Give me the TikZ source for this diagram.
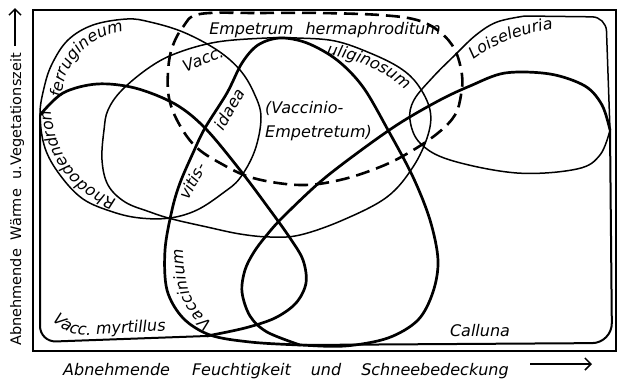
\documentclass[tikz,border=0pt]{standalone}
\usepackage{fontspec}
\setmainfont{DejaVu Sans}
\usetikzlibrary{arrows.meta,decorations.text}

\newcommand\labfont{\fontsize{16}{18}\selectfont\itshape}

\begin{document}
\begin{tikzpicture}[x=1pt,y=-1pt,
  frameline/.style={line width=2.8pt},
  heavy/.style={line width=2.7pt,line join=round},
  medium/.style={line width=2pt,line join=round},
  light/.style={line width=1.5pt},
  dashline/.style={line width=2.6pt,dash pattern=on 14pt off 7pt},
  lab/.style={font=\labfont,inner sep=0pt},
  along/.style={decorate,decoration={text along path,text align=center,text={|\labfont|#1}}},
  axisarr/.style={line width=1.5pt,-{Straight Barb[length=6pt,width=12pt]}}
]
\useasboundingbox (0,0) rectangle (619,378);
\draw[frameline] (33,10) rectangle (616,351);

% Rhododendron ferrugineum
\draw[light] plot[smooth cycle,tension=.6] coordinates {(40,115) (44,88) (52,64) (68,40) (93,25) (127,19) (150,22) (183,32) (217,50) (240,70) (254,93) (261,117) (255,150) (240,178) (223,193) (197,210) (170,218) (140,218) (113,212) (83,199) (60,175) (45,148)};
% Vacc. uliginosum
\draw[light] plot[smooth cycle,tension=.6] coordinates {(104,130) (102,160) (108,185) (125,202) (150,212) (172,219) (207,227) (240,234) (270,237) (300,235) (343,220) (387,197) (413,167) (428,135) (430,110) (418,85) (400,68) (370,53) (335,41) (297,38) (267,38) (217,42) (177,53) (150,67) (122,90) (108,110)};
% Empetrum hermaphroditum
\draw[dashline] plot[smooth cycle,tension=.6] coordinates {(200,14) (260,13) (320,13) (380,15) (417,20) (440,32) (455,50) (462,75) (461,95) (455,115) (438,133) (410,152) (380,167) (340,180) (300,185) (253,178) (220,163) (195,146) (178,122) (169,98) (168,72) (172,48) (183,27)};
% Vacc. vitis-idaea
\draw[heavy] plot[smooth cycle,tension=.55] coordinates {(165,250) (172,210) (180,183) (193,153) (205,128) (227,93) (242,63) (258,45) (280,38) (307,43) (337,60) (363,87) (388,130) (413,177) (430,220) (438,260) (433,292) (418,320) (388,338) (345,346) (300,345) (250,342) (210,335) (183,318) (167,290)};
% Vacc. myrtillus
\draw[heavy] plot[smooth,tension=.55] coordinates {(40,115) (63,93) (97,84) (135,88) (175,104) (205,128) (240,170) (270,210) (290,238) (303,260) (306,283) (296,303) (275,318) (245,328) (207,336)};
\draw[medium,rounded corners=16pt] (207,336) -- (40,342) -- (40,115);
% Calluna
\draw[heavy] plot[smooth,tension=.55] coordinates {(300,345) (267,332) (250,316) (242,292) (245,270) (254,252) (266,236) (282,218) (320,182) (360,151) (400,123) (440,100) (470,86) (505,73) (550,74) (585,86) (602,105) (610,130)};
\draw[medium,rounded corners=20pt] (610,130) -- (612,343) -- (300,345);
% Loiseleuria
\draw[light] plot[smooth,tension=.6] coordinates {(610,130) (600,155) (577,169) (517,173) (450,160) (420,143) (410,120) (414,100) (433,77) (455,55) (476,35) (497,22) (525,16)} [rounded corners=14pt] -- (606,17) -- (610,130);

% labels
\node[lab,anchor=base] (empetrum) at (325,34) {Empetrum\hspace{12pt}hermaphroditum};
\node[lab,anchor=base] (calluna) at (480,336) {Calluna};
\node[lab,rotate=22] (vacc) at (203,59) {Vacc.};
\node[lab,rotate=62] (vitis) at (192,181) {vitis-};
\node[lab,rotate=60] (idaea) at (229,109) {idaea};
\node[lab,anchor=base west] (vaccinio) at (265,113) {(Vaccinio-};
\node[lab,anchor=base west] (empetretum) at (265,137) {Empetretum)};
\path[along={ferrugineum}] (61,104) .. controls (62,62) and (88,34) .. (130,31);
\path[along={Rhododendron}] (126,202) .. controls (85,193) and (52,160) .. (50,100);
\path[along={Vacc. myrtillus}] (46,312) .. controls (60,333) and (75,336) .. (95,335) -- (176,330);
\path[along={Vaccinium}] (218,328) .. controls (192,310) and (183,290) .. (183,242);
\path[along={uliginosum}] (318,53) .. controls (355,58) and (385,70) .. (412,96);
\path[along={Loiseleuria}] (468,64) .. controls (490,45) and (520,33) .. (560,28);

% axes
\node[anchor=base west,rotate=90,font=\fontsize{14.5}{16}\selectfont,inner sep=0pt] (ylab) at (21,346) {Abnehmende\hspace{9pt}Wärme\hspace{9pt}u.\hspace{1pt}Vegetationszeit};
\node[lab,anchor=base west] (xlab) at (63,375) {Abnehmende\hspace{22pt}Feuchtigkeit\hspace{20pt}und\hspace{20pt}Schneebedeckung};
\coordinate (ytail) at (15,46);
\coordinate (yhead) at (15,8);
\coordinate (xtail) at (530,364);
\coordinate (xhead) at (592,364);
\draw[axisarr] (ytail) -- (yhead);
\draw[axisarr] (xtail) -- (xhead);
\end{tikzpicture}
\end{document}
